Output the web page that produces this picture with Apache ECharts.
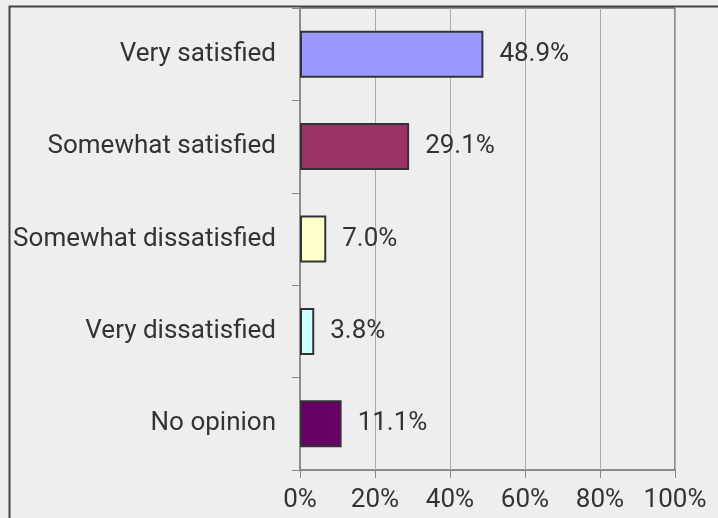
<!DOCTYPE html>
<html><head><meta charset="utf-8">
<script src="https://cdn.jsdelivr.net/npm/echarts@6/dist/echarts.min.js"></script>
<style>html,body{margin:0;padding:0;background:#eeeeee;}#c{width:718px;height:518px;}</style>
</head><body><div id="c"></div>
<script>
const categories = ['Very satisfied','Somewhat satisfied','Somewhat dissatisfied','Very dissatisfied','No opinion'];
const values = [48.9, 29.1, 7.0, 3.8, 11.1];
const barColors = ['#9999ff','#993366','#ffffcc','#ccffff','#660066'];
const xTicks = [0,20,40,60,80,100];

const chart = echarts.init(document.getElementById('c'), null, {renderer:'canvas'});
chart.setOption({
  backgroundColor:'#eeeeee',
  animation:false,
  graphic:[{type:'rect', left:7, top:4, shape:{x:0,y:0,width:760,height:560}, style:{fill:'none', stroke:'#444', lineWidth:2}, z:-1}],
  grid:{left:300, right:43, top:8, bottom:48, show:true, borderColor:'#333', borderWidth:1, backgroundColor:'transparent'},
  xAxis:{type:'value', min:xTicks[0], max:xTicks[xTicks.length-1], interval:20,
    axisLine:{show:true, lineStyle:{color:'#888'}},
    axisTick:{show:true, length:8, lineStyle:{color:'#888'}},
    splitLine:{show:true, lineStyle:{color:'#aaa', width:1}},
    axisLabel:{formatter:'{value}%', fontFamily:'Roboto', fontSize:26, color:'#333', margin:17}},
  yAxis:{type:'category', data:categories, inverse:true,
    axisLine:{show:true, lineStyle:{color:'#888'}},
    axisTick:{show:true, length:8, lineStyle:{color:'#888'}},
    axisLabel:{fontFamily:'Roboto', fontSize:26, color:'#333', margin:24}},
  series:[{type:'bar', barWidth:47,
    data: values.map((v,i)=>({value:v, itemStyle:{color:barColors[i]}})),
    itemStyle:{borderColor:'#333', borderWidth:2},
    label:{show:true, position:'right', distance:16, formatter:p=>p.value.toFixed(1)+'%', fontFamily:'Roboto', fontSize:26, color:'#333'}}]
});
</script></body></html>
